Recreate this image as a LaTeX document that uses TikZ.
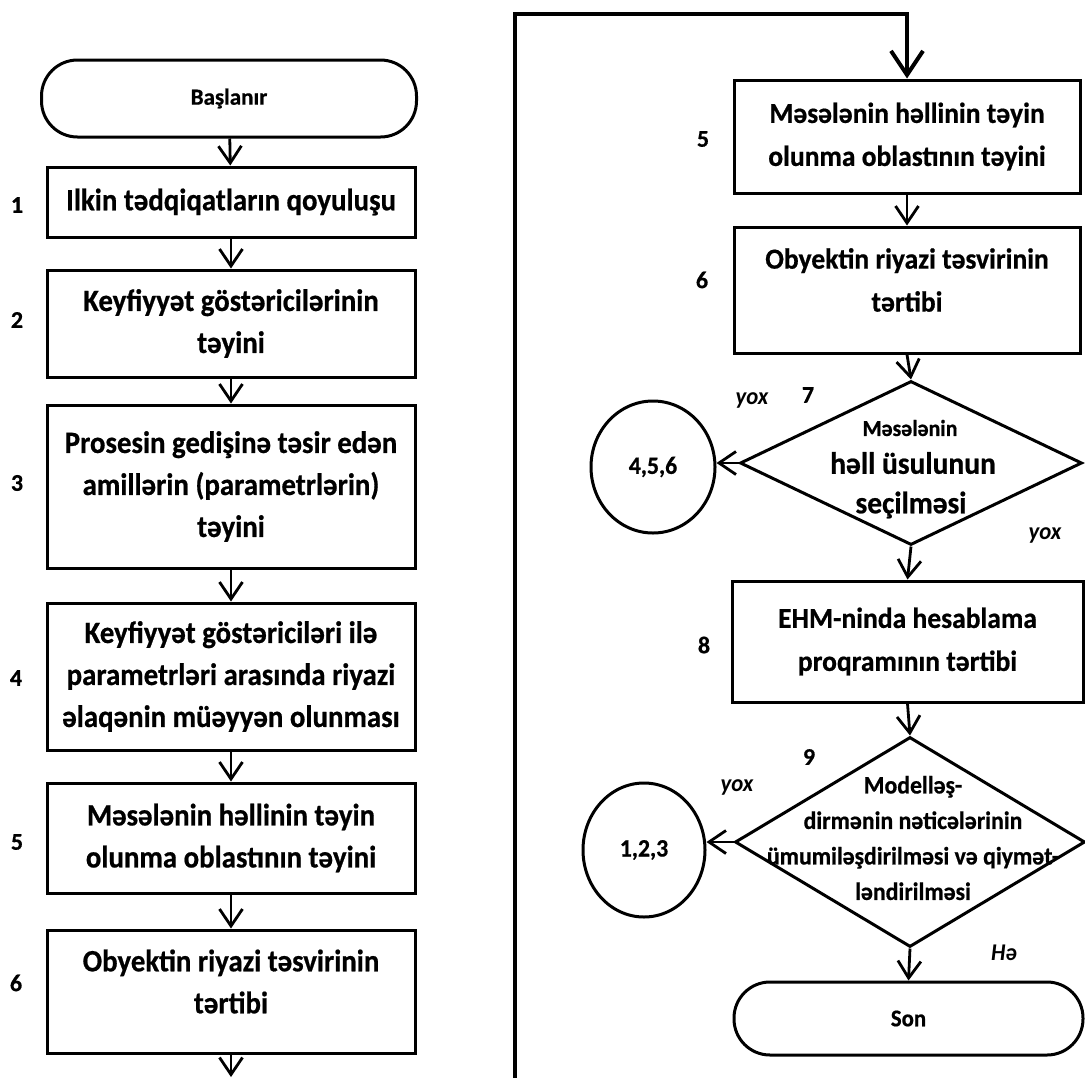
\documentclass[tikz,border=0pt]{standalone}
\usepackage{fontspec}
\setmainfont{Carlito}[BoldFeatures={FakeBold=0.6}]
\newfontfamily\lfont{Carlito}[FakeStretch=0.93,BoldFeatures={FakeBold=0.6}]
\newfontfamily\rfont{Carlito}[FakeStretch=0.95,BoldFeatures={FakeBold=0.6}]
\usetikzlibrary{arrows.meta,shapes.geometric}
\begin{document}
\begin{tikzpicture}[x=1pt,y=-1pt,
  box/.style={draw,line width=3pt,rectangle,inner sep=0pt,align=center,
     font=\lfont\bfseries\fontsize{31}{42}\selectfont},
  rbox/.style={box,font=\rfont\bfseries\fontsize{29}{43}\selectfont},
  term/.style={draw,line width=3pt,rectangle,rounded corners=36pt,inner sep=0pt,
     font=\bfseries\fontsize{23}{28}\selectfont},
  dia/.style={draw,line width=3pt,diamond,inner sep=0pt},
  conn/.style={draw,line width=3pt,ellipse,inner sep=0pt,
     font=\rfont\bfseries\fontsize{25}{28}\selectfont},
  txt/.style={inner sep=0pt,align=center,font=\lfont\bfseries\fontsize{31}{42}\selectfont},
  rtxt/.style={inner sep=0pt,align=center,font=\rfont\bfseries\fontsize{29}{43}\selectfont},
  num/.style={inner sep=0pt,font=\bfseries\fontsize{24}{28}\selectfont},
  yes/.style={inner sep=0pt,font=\rfont\bfseries\itshape\fontsize{24}{28}\selectfont},
  arr/.style={line width=2.8pt,-{Straight Barb[length=17pt,width=23pt]}},
  looparr/.style={line width=4pt,-{Straight Barb[length=24pt,width=32pt]}},
]
\useasboundingbox (0,0) rectangle (1085,1077);
\clip (0,0) rectangle (1085,1077);
\fill[white] (0,0) rectangle (1085,1077);

% ---------- left column ----------
\node[term,minimum width=375pt,minimum height=77pt] (start) at (229,98.5) {Başlanır};
\node[box,minimum width=368pt,minimum height=70pt] (b1) at (231,202) {Ilkin tədqiqatların qoyuluşu};
\node[box,minimum width=368pt,minimum height=107pt] (b2) at (231,323.5) {Keyfiyyət göstəricilərinin\\təyini};
\node[box,minimum width=368pt,minimum height=163pt] (b3) at (231,486.5) {Prosesin gedişinə təsir edən\\amillərin (parametrlərin)\\təyini};
\node[box,minimum width=368pt,minimum height=147pt] (b4) at (231,676.5) {Keyfiyyət göstəriciləri ilə\\parametrləri arasında riyazi\\əlaqənin müəyyən olunması};
\node[box,minimum width=368pt,minimum height=110pt] (b5) at (231,838) {Məsələnin həllinin təyin\\olunma oblastının təyini};
\node[box,minimum width=368pt,minimum height=123pt] (b6) at (231,991.5) {};
\node[txt,yshift=10pt] (b6t) at (b6.center) {Obyektin riyazi təsvirinin\\tərtibi};
\coordinate (lend) at (231,1077);

\node[num] (n1) at (17,205) {1};
\node[num] (n2) at (17,320) {2};
\node[num] (n3) at (17,483) {3};
\node[num] (n4) at (16,678) {4};
\node[num] (n5) at (17,842) {5};
\node[num] (n6) at (16,983) {6};

\draw[arr] (start) -- (b1);
\draw[arr] (b1) -- (b2);
\draw[arr] (b2) -- (b3);
\draw[arr] (b3) -- (b4);
\draw[arr] (b4) -- (b5);
\draw[arr] (b5) -- (b6);
\draw[arr] (b6) -- (lend);

% ---------- right column ----------
\node[rbox,minimum width=346pt,minimum height=113pt] (r5) at (907,136.5) {Məsələnin həllinin təyin\\olunma oblastının təyini};
\node[rbox,minimum width=346pt,minimum height=126pt] (r6) at (907,290) {};
\node[rtxt,yshift=10pt] (r6t) at (r6.center) {Obyektin riyazi təsvirinin\\tərtibi};
\node[dia,minimum width=342pt,minimum height=164pt] (d7) at (911,463) {};
\node[inner sep=0pt,font=\rfont\bfseries\fontsize{23}{28}\selectfont] (d7a) at (910,428) {Məsələnin};
\node[inner sep=0pt,font=\rfont\bfseries\fontsize{31}{36}\selectfont] (d7b) at (913,463) {həll üsulunun};
\node[inner sep=0pt,font=\rfont\bfseries\fontsize{31}{36}\selectfont] (d7c) at (911,505) {seçilməsi};
\node[conn,minimum width=124pt,minimum height=132pt] (c456) at (653,467) {4,5,6};
\node[rbox,minimum width=351pt,minimum height=121pt] (r8) at (907.5,641.5) {EHM-ninda hesablama\\proqramının tərtibi};
\node[dia,minimum width=350pt,minimum height=210pt] (d9) at (910,842) {};
\node[inner sep=0pt,align=center,font=\rfont\bfseries\fontsize{25}{35.5}\selectfont] (d9t) at (913,838) {Modelləş-\\dirmənin nəticələrinin\\ümumiləşdirilməsi və qiymət-\\ləndirilməsi};
\node[conn,minimum width=122pt,minimum height=134pt] (c123) at (644,850) {1,2,3};
\node[term,minimum width=349pt,minimum height=73pt,font=\rfont\bfseries\fontsize{24}{28}\selectfont] (son) at (908.5,1018.5) {Son};

\node[num] (m5) at (703,139) {5};
\node[num] (m6) at (702,280) {6};
\node[num] (m7) at (808,395) {7};
\node[num] (m8) at (704,645) {8};
\node[num] (m9) at (809,757) {9};
\node[yes] (y1) at (752,400) {yox};
\node[yes] (y2) at (1045,535) {yox};
\node[yes] (y3) at (737,787) {yox};
\node[yes] (h1) at (1004,953) {Hə};

\coordinate (lbot) at (515,1080);
\coordinate (ltop) at (515,14);
\draw[looparr] (lbot) -- (ltop) -- (ltop -| r5.north) -- (r5.north);

\draw[arr] (r5) -- (r6);
\draw[arr] (r6.south) -- (d7.north);
\draw[arr] (d7.west) -- (d7.west -| c456.east);
\draw[arr] (d7.south) -- (r8.north);
\draw[arr] (r8.south) -- (d9.north);
\draw[arr] (d9.west) -- (d9.west -| c123.east);
\draw[arr] (d9.south) -- (son.north);
\end{tikzpicture}
\end{document}
